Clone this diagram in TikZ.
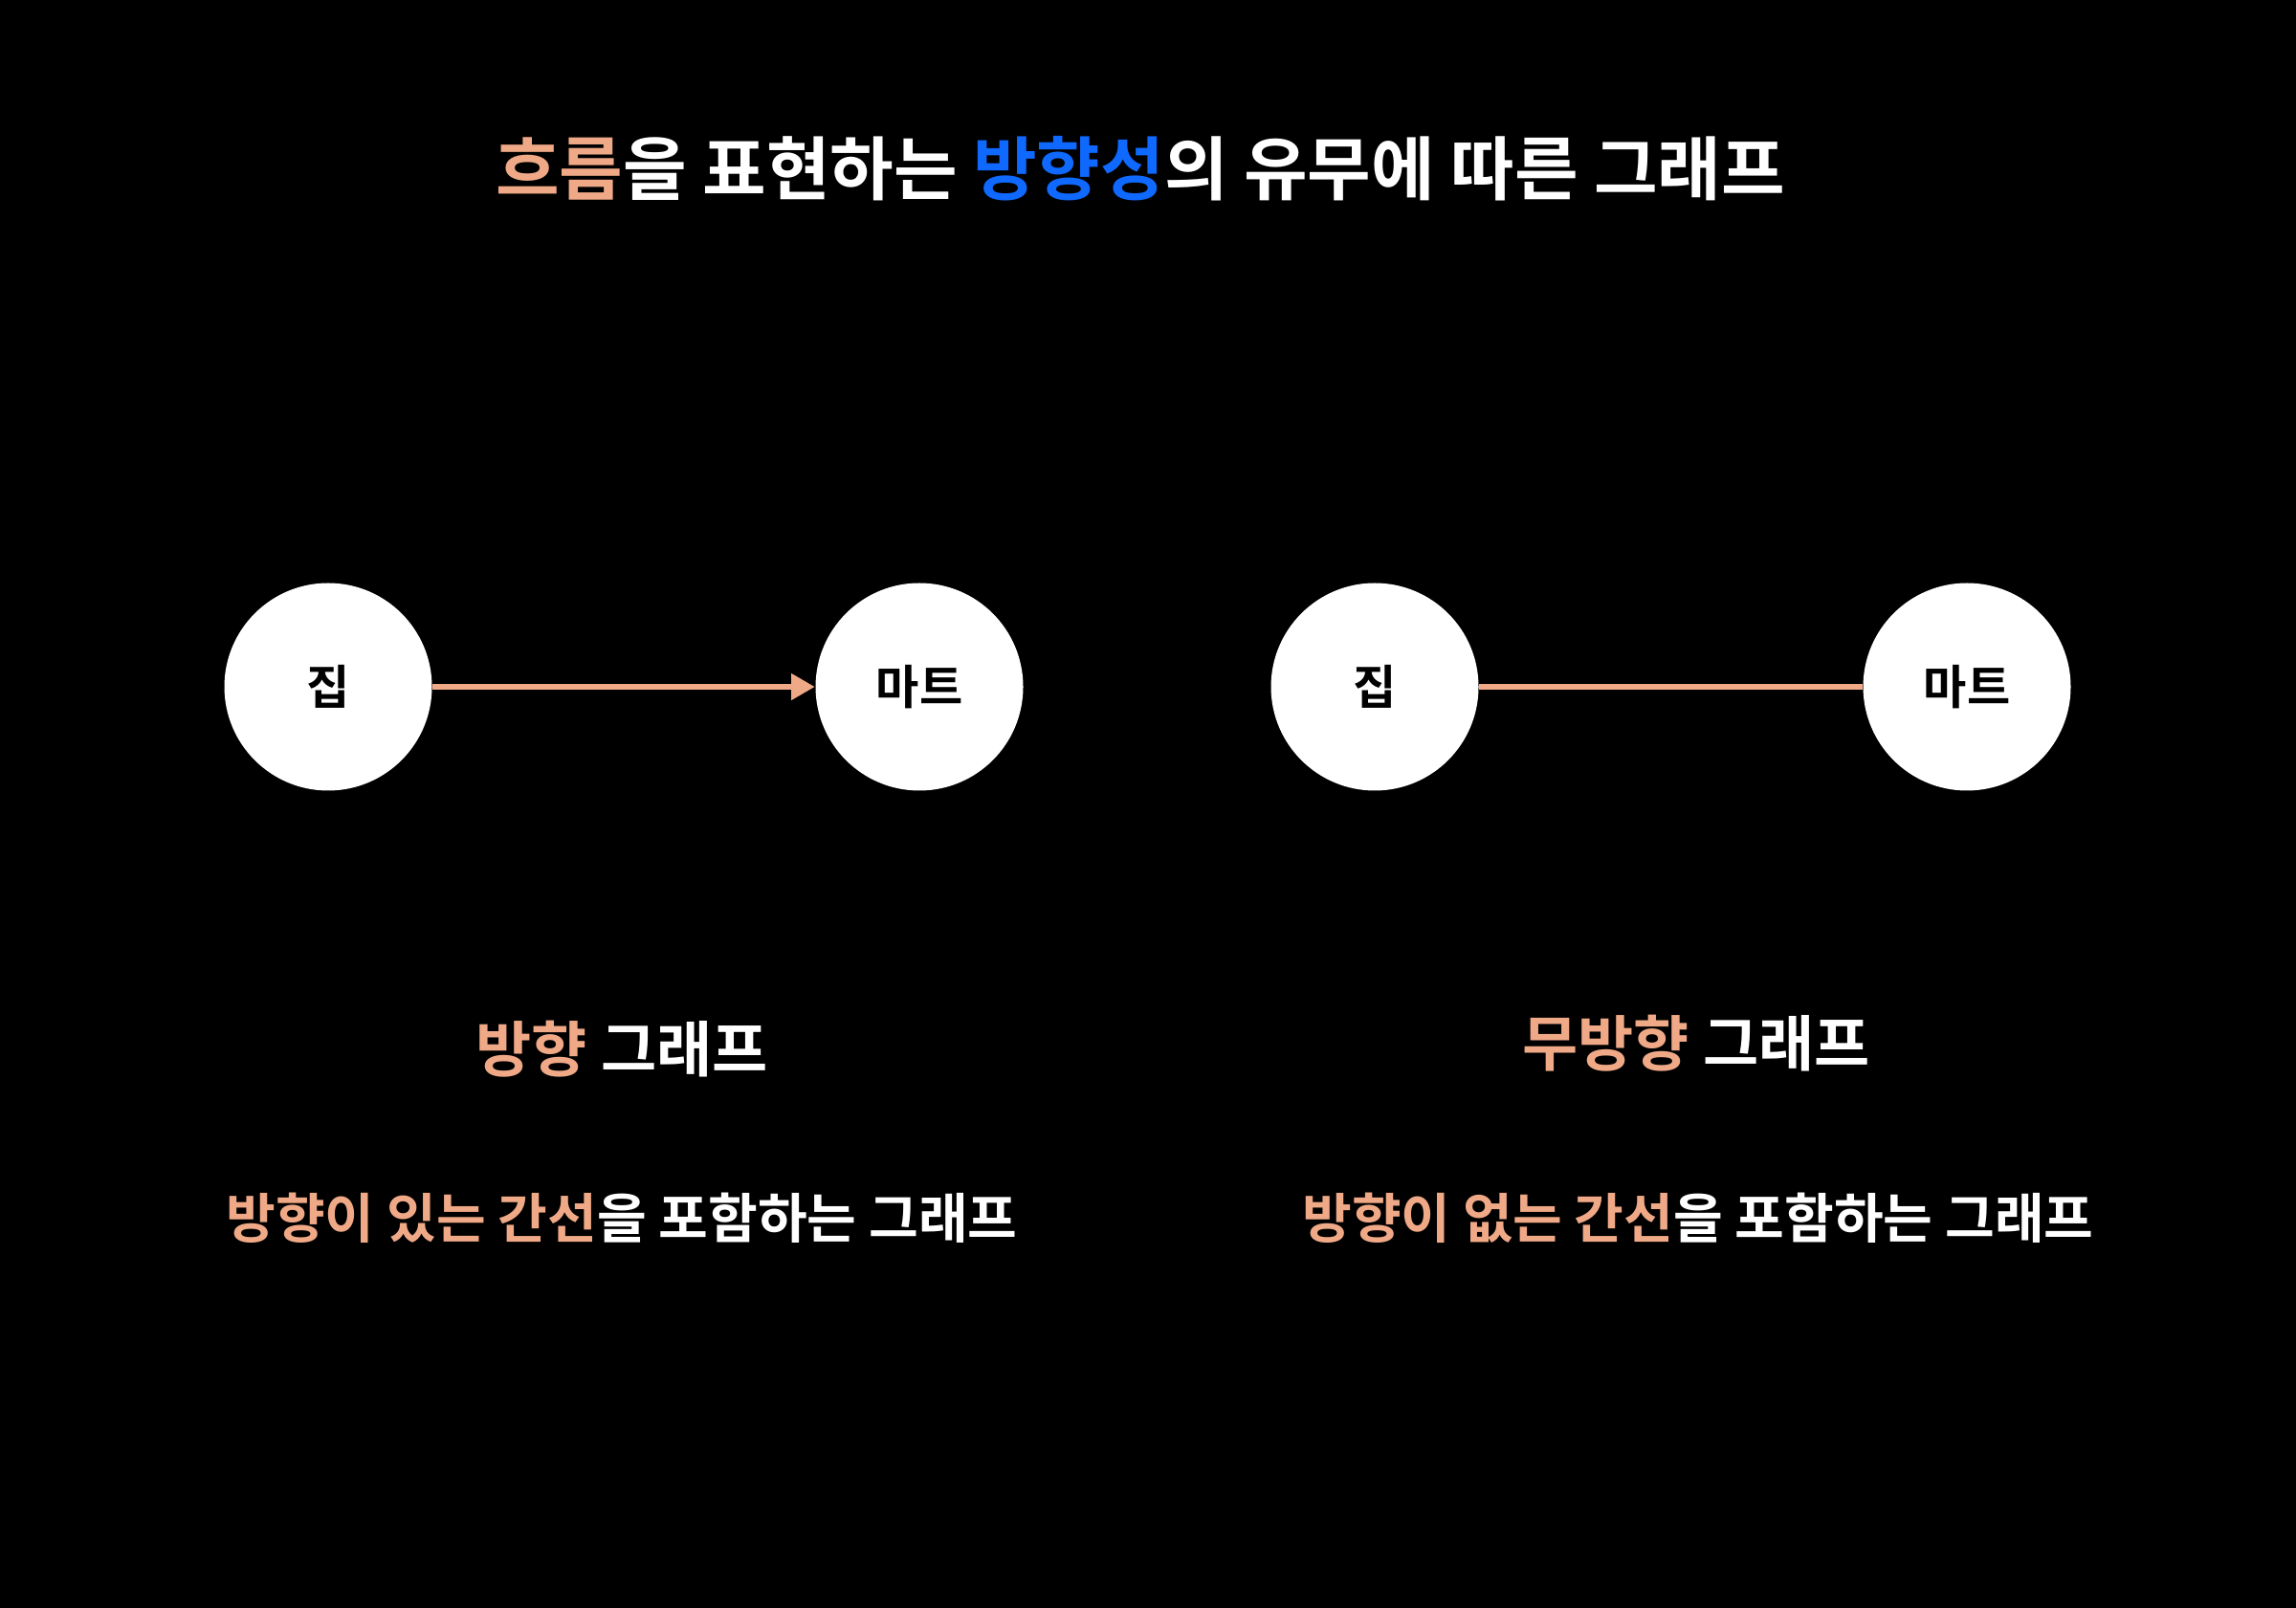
\documentclass[tikz,border=0pt]{standalone}
\usepackage{fontspec}
\setmainfont{Noto Sans CJK KR}[BoldFont={Noto Sans CJK KR Bold}]
\usetikzlibrary{arrows.meta}
\definecolor{peach}{HTML}{F0A987}
\definecolor{flowblue}{HTML}{0F69FF}

\begin{document}
\begin{tikzpicture}[
    vertex/.style={circle, fill=white, minimum size=2.17cm, inner sep=0pt, text=black, font=\fontsize{14}{16}\selectfont\bfseries},
    edge/.style={peach, line width=1.7pt},
    heading/.style={text=white, font=\fontsize{18}{20}\selectfont\bfseries},
    caption/.style={text=white, font=\fontsize{16}{18}\selectfont\bfseries}
  ]
    \useasboundingbox (0,0) rectangle (24,16.8);
    \fill[black] (-1,-1) rectangle (25,17.8);

    \node (title) at (11.92, 15.04) [text=white, font=\fontsize{20.6}{24}\selectfont\bfseries] {\textcolor{peach}{흐름}을 표현하는 \textcolor{flowblue}{방향성}의 유무에 따른 그래프};

    % directed
    \node (home1) at (3.43, 9.62) [vertex] {집};
    \node (mart1) at (9.61, 9.62) [vertex] {마트};
    \draw[edge, -{Triangle[length=7pt, width=7.5pt]}] (home1) -- (mart1);

    % undirected
    \node (home2) at (14.37, 9.62) [vertex] {집};
    \node (mart2) at (20.56, 9.62) [vertex] {마트};
    \draw[edge] (home2) -- (mart2);

    \node (directed) at (6.50, 5.83) [heading] {\textcolor{peach}{방향} 그래프};
    \node (undirected) at (17.73, 5.89) [heading] {\textcolor{peach}{무방향} 그래프};

    \node (dirtext) at (6.50, 4.07) [caption] {\textcolor{peach}{방향이 있는 간선}을 포함하는 그래프};
    \node (undirtext) at (17.75, 4.07) [caption] {\textcolor{peach}{방향이 없는 간선}을 포함하는 그래프};
\end{tikzpicture}
\end{document}
